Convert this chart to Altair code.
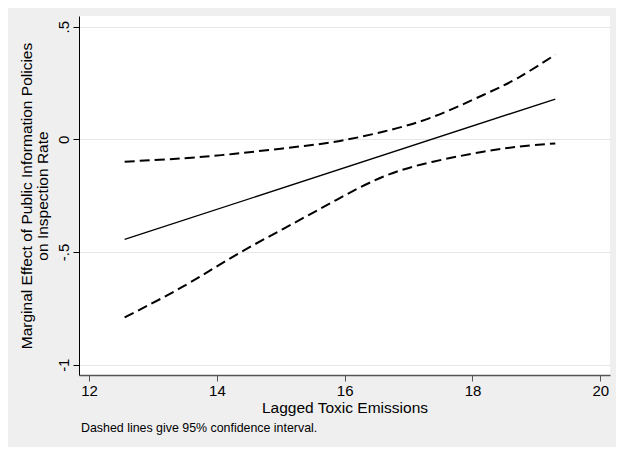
import altair as alt
import pandas as pd

# main marginal effect line
x_main = [12.556, 19.296]
y_main = [-0.444, 0.179]

# 95% confidence bounds
x_ci = [12.556, 13.466, 14.249, 15.033, 15.817, 16.600, 17.384, 18.168, 18.701, 19.296]
upper = [-0.099, -0.084, -0.065, -0.040, -0.012, 0.034, 0.100, 0.197, 0.271, 0.376]
lower = [-0.790, -0.654, -0.521, -0.398, -0.277, -0.166, -0.099, -0.055, -0.033, -0.018]

x_ticks = [12, 14, 16, 18, 20]
y_ticks = [-1, -0.5, 0, 0.5]

FONT = "Liberation Sans"

main_df = pd.DataFrame({"x": x_main, "y": y_main})
ci_df = pd.concat([
    pd.DataFrame({"x": x_ci, "y": upper, "bound": "upper"}),
    pd.DataFrame({"x": x_ci, "y": lower, "bound": "lower"}),
])

xscale = alt.Scale(domain=[11.842, 20.152], nice=False, zero=False)
yscale = alt.Scale(domain=[-1.0457, 0.5475], nice=False, zero=False)

xaxis = alt.Axis(
    values=x_ticks, format="d", title="Lagged Toxic Emissions", grid=False,
    tickSize=6, tickColor="#555555", domainColor="#555555", domainWidth=1.5,
    labelFont=FONT, labelFontSize=15, labelColor="black", labelPadding=2,
    labelFlush=False, labelOverlap=False,
    titleFont=FONT, titleFontSize=15.5, titleFontWeight="normal",
    titleColor="black", titlePadding=2,
)
yaxis = alt.Axis(
    values=y_ticks,
    labelExpr="datum.value == 0.5 ? '.5' : datum.value == -0.5 ? '-.5' : datum.value == 0 ? '0' : '-1'",
    title=["Marginal Effect of Public Information Policies", "on Inspection Rate"],
    grid=True, gridColor="#e6e6e6", gridWidth=1.2,
    tickSize=6, tickColor="black", domainColor="black", domainWidth=1,
    labelFont=FONT, labelFontSize=15, labelColor="black", labelAngle=270,
    labelAlign="center", labelBaseline="bottom", labelPadding=2,
    labelFlush=False, labelOverlap=False,
    titleFont=FONT, titleFontSize=15.5, titleFontWeight="normal",
    titleColor="black", titlePadding=6, titleLineHeight=16,
)

main = alt.Chart(main_df).mark_line(color="black", strokeWidth=1.3).encode(
    x=alt.X("x:Q", scale=xscale, axis=xaxis),
    y=alt.Y("y:Q", scale=yscale, axis=yaxis),
)

ci = alt.Chart(ci_df).mark_line(
    color="black", strokeWidth=2, strokeDash=[10, 5], interpolate="natural"
).encode(
    x=alt.X("x:Q", scale=xscale),
    y=alt.Y("y:Q", scale=yscale),
    detail="bound:N",
)

chart = alt.layer(main, ci).properties(
    width=531, height=359,
    autosize=alt.AutoSizeParams(type="none"),
    padding={"left": 71, "top": 8, "right": 6, "bottom": 72},
    background="#efefef",
    title=alt.TitleParams(
        "Dashed lines give 95% confidence interval.", orient="bottom",
        anchor="start", frame="group", font=FONT, fontSize=12.4,
        fontWeight="normal", color="black", offset=6, dx=2,
    ),
).configure_view(fill="white", stroke=None)

chart.save("out.html", embed_options={"renderer": "svg", "actions": False})
